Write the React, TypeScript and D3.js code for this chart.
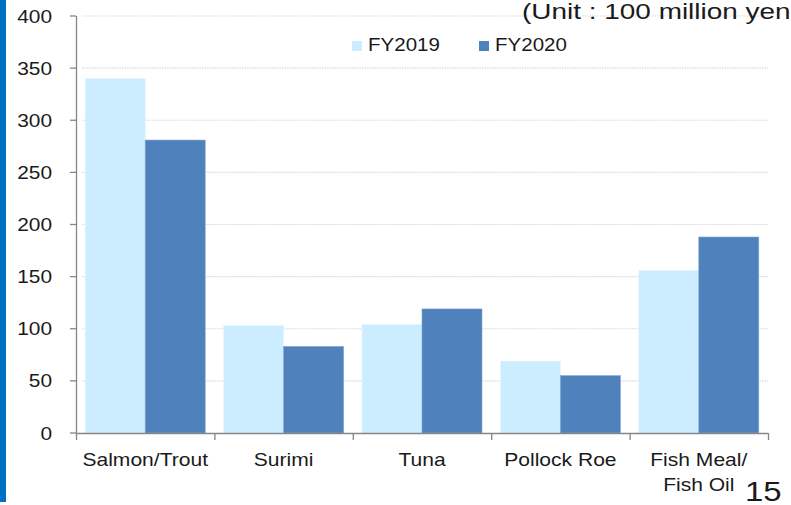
import React from "react";
import * as d3 from "d3";

const categories = ["Salmon/Trout", "Surimi", "Tuna", "Pollock Roe", "Fish Meal/\nFish Oil"];
const seriesNames = ["FY2019", "FY2020"];
const fy2019 = [340, 103, 104, 69, 156];
const fy2020 = [281, 83, 119, 55, 188];
const yTicks = [0, 50, 100, 150, 200, 250, 300, 350, 400];
const colors = ["#CCECFF", "#4F81BD"];

const FONT = "'Liberation Sans', Arial, sans-serif";

function T({ x, y, size, sx = 1.15, anchor = "start", children, fill = "#1a1a1a" }: any) {
  return (
    <text
      transform={`translate(${x},${y}) scale(${sx},1)`}
      textAnchor={anchor}
      fontFamily={FONT}
      fontSize={size}
      fill={fill}
    >
      {children}
    </text>
  );
}

export default function App() {
  const W = 791, H = 505;
  const x0 = 76, x1 = 768, yTop = 16, yBot = 433;
  const x = d3.scaleBand<string>().domain(categories).range([x0, x1]).padding(0);
  const bw = x.bandwidth();
  const inner = d3.scaleBand<string>().domain(seriesNames).range([9.2, bw - 9.2]).padding(0);
  const y = d3.scaleLinear().domain([0, 400]).range([yBot, yTop]);
  const data = [fy2019, fy2020];

  return (
    <svg width={W} height={H} style={{ position: "absolute", left: 0, top: 0, background: "#fff" }}>
      <rect x={0} y={0} width={W} height={H} fill="#fff" />
      <rect x={0} y={0} width={6} height={502} fill="#0070C0" />
      {/* gridlines */}
      {yTicks.filter((t) => t > 0).map((t) => (
        <line key={t} x1={82} x2={x1} y1={y(t)} y2={y(t)} stroke="#d9d9d9" strokeWidth={1.2} strokeDasharray="1.5 1" />
      ))}
      {/* bars */}
      {categories.map((c, i) =>
        seriesNames.map((s, j) => (
          <rect
            key={c + s}
            x={(x(c) as number) + (inner(s) as number)}
            y={y(data[j][i])}
            width={inner.bandwidth()}
            height={yBot - y(data[j][i])}
            fill={colors[j]}
            stroke={j === 1 ? "#7fa3d0" : "#e4f5ff"}
            strokeWidth={0.6}
          />
        ))
      )}
      {/* axes */}
      <line x1={x0 + 0.5} x2={x0 + 0.5} y1={yTop} y2={yBot} stroke="#868686" strokeWidth={1.3} />
      <line x1={x0} x2={x1} y1={yBot + 0.5} y2={yBot + 0.5} stroke="#868686" strokeWidth={1.3} />
      {yTicks.map((t) => (
        <line key={t} x1={70} x2={x0} y1={y(t)} y2={y(t)} stroke="#868686" strokeWidth={1.3} />
      ))}
      {[...categories.map((c) => x(c) as number), x1].map((px, i) => (
        <line key={i} x1={px + 0.5} x2={px + 0.5} y1={yBot} y2={yBot + 7} stroke="#868686" strokeWidth={1.3} />
      ))}
      {/* y labels */}
      {yTicks.map((t) => (
        <T key={t} x={52} y={y(t) + 6.6} size={18.5} sx={1.13} anchor="end">
          {String(t)}
        </T>
      ))}
      {/* category labels */}
      {categories.map((c) => {
        const cx = (x(c) as number) + bw / 2;
        return c.split("\n").map((line, k) => (
          <T key={c + k} x={cx} y={466 + k * 25} size={18} sx={1.17} anchor="middle">
            {line}
          </T>
        ));
      })}
      {/* legend */}
      {seriesNames.map((s, j) => {
        const lx = [352, 479][j];
        return (
          <g key={s}>
            <rect x={lx} y={41} width={10} height={10} fill={colors[j]} />
            <T x={lx + 16} y={51} size={18} sx={1.14}>
              {s}
            </T>
          </g>
        );
      })}
      <T x={522} y={18.5} size={21.5} sx={1.3}>
        (Unit : 100 million yen
      </T>
      <T x={745} y={501} size={27} sx={1.22}>
        15
      </T>
    </svg>
  );
}
